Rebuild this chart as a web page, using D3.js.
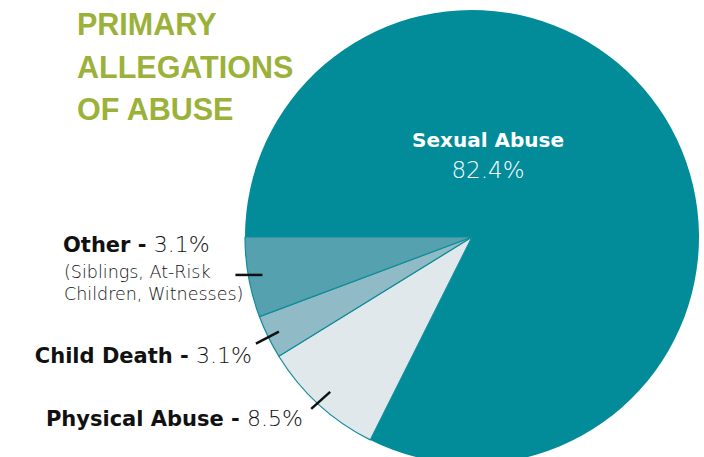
<!DOCTYPE html>
<html>
<head>
<meta charset="utf-8">
<script src="https://cdn.jsdelivr.net/npm/d3@7"></script>
<style>
  html, body { margin: 0; padding: 0; background: #fff; }
  svg { display: block; }
</style>
</head>
<body>
<div id="canvas"></div>
<script>
// categories, clockwise from 9 o'clock
const categories = ['Sexual Abuse', 'Physical Abuse', 'Child Death', 'Other'];
// share of the circle as drawn in the picture
const sliceShare = [82.4, 8.8, 3.1, 5.7];
// printed percentages
const labelPct = ['82.4%', '8.5%', '3.1%', '3.1%'];
const sliceColors = ['#028b99', '#e0e8eb', '#8fbac6', '#56a1b0'];
const titleLines = ['PRIMARY', 'ALLEGATIONS', 'OF ABUSE'];
const otherNote = ['(Siblings, At-Risk', 'Children, Witnesses)'];

const w = 704;
const h = 457;
const cx = 472;
const cy = 237;
const r = 227;

const svg = d3.select('#canvas')
  .append('svg')
  .attr('width', w)
  .attr('height', h);

const data = categories.map((c, i) => ({ name: c, share: sliceShare[i], pct: labelPct[i], color: sliceColors[i] }));

const pie = d3.pie()
  .sort(null)
  .value(d => d.share)
  .startAngle(-Math.PI / 2)
  .endAngle(Math.PI * 1.5);

const arc = d3.arc().innerRadius(0).outerRadius(r);

const arcs = pie(data);

const g = svg.append('g')
  .attr('transform', 'translate(' + cx + ',' + cy + ')');

g.selectAll('path')
  .data(arcs)
  .enter()
  .append('path')
  .attr('d', arc)
  .attr('fill', d => d.data.color)
  .attr('stroke', '#0f8d9a')
  .attr('stroke-width', (d, i) => i === 0 ? 0 : 1.2)
  .attr('stroke-linejoin', 'round');

// title
svg.append('g')
  .selectAll('text')
  .data(titleLines)
  .enter()
  .append('text')
  .attr('x', 77)
  .attr('y', (d, i) => 35 + i * 42.5)
  .attr('fill', '#9bb13a')
  .style('font-family', '"Liberation Sans", Arial, sans-serif')
  .style('font-weight', 'bold')
  .style('font-size', '30.5px')
  .text(d => d);

// big slice label
const sx = cx + 16;
g.append('text')
  .attr('x', sx - cx)
  .attr('y', 147 - cy)
  .attr('text-anchor', 'middle')
  .attr('fill', '#fff')
  .style('font-family', '"DejaVu Sans", sans-serif')
  .style('font-weight', 'bold')
  .style('font-size', '20px')
  .text(data[0].name);

g.append('text')
  .attr('x', sx - cx)
  .attr('y', 178 - cy)
  .attr('text-anchor', 'middle')
  .attr('fill', '#fff')
  .style('font-family', '"DejaVu Sans", sans-serif')
  .style('font-weight', 200)
  .style('font-size', '23px')
  .text(data[0].pct);

// leader lines for small slices
function midPoint(a, rad) {
  const m = (a.startAngle + a.endAngle) / 2;
  return [Math.sin(m) * rad, -Math.cos(m) * rad];
}

const leaders = [
  { i: 3, rad: 213, dx: -27, dy: 0 },
  { i: 2, rad: 215, dx: -23, dy: 12 },
  { i: 1, rad: 210, dx: -19, dy: 17 }
];

leaders.forEach(l => {
  const p = midPoint(arcs[l.i], l.rad);
  g.append('line')
    .attr('x1', p[0])
    .attr('y1', p[1])
    .attr('x2', p[0] + l.dx)
    .attr('y2', p[1] + l.dy)
    .attr('stroke', '#111')
    .attr('stroke-width', 2.5);
});

function boldLabel(x, y, anchor, name, pct) {
  const t = svg.append('text')
    .attr('x', x)
    .attr('y', y)
    .attr('text-anchor', anchor)
    .attr('fill', '#111')
    .style('font-family', '"DejaVu Sans", sans-serif')
    .style('font-size', '21px');
  t.append('tspan').style('font-weight', 'bold').text(name + ' - ');
  t.append('tspan').style('font-weight', 200).style('font-size', '22px').text(pct);
  return t;
}

boldLabel(63, 252, 'start', data[3].name, data[3].pct);
svg.append('g')
  .selectAll('text')
  .data(otherNote)
  .enter()
  .append('text')
  .attr('x', 64)
  .attr('y', (d, i) => 278 + i * 22)
  .attr('fill', '#111')
  .style('font-family', '"DejaVu Sans", sans-serif')
  .style('font-weight', 200)
  .style('font-size', '17.5px')
  .text(d => d);

boldLabel(252, 363, 'end', data[2].name, data[2].pct);
boldLabel(303, 426, 'end', data[1].name, data[1].pct);
</script>
</body>
</html>
